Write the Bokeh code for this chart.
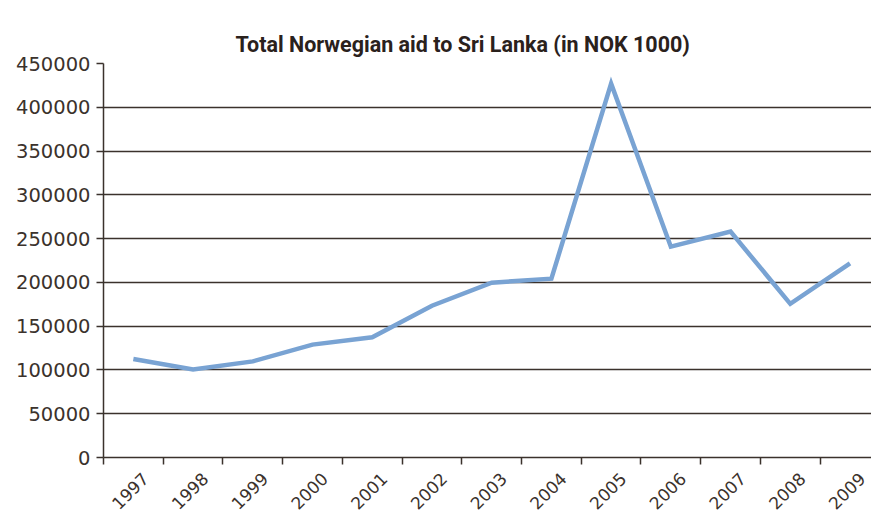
import math
from bokeh.plotting import figure
from bokeh.models import Range1d, FixedTicker, NumeralTickFormatter, Title, LinearAxis
from bokeh.embed import file_html
from bokeh.resources import INLINE

title_text = "Total Norwegian aid to Sri Lanka (in NOK 1000)"
years = [1997, 1998, 1999, 2000, 2001, 2002, 2003, 2004, 2005, 2006, 2007, 2008, 2009]
aid = [112600, 100500, 109800, 128900, 137300, 173400, 199700, 204300, 427000, 240800, 258000, 175500, 221800]
y_ticks = [0, 50000, 100000, 150000, 200000, 250000, 300000, 350000, 400000, 450000]

TXT = "#3b322c"
GRID = "#3b322c"

p = figure(width=871, height=520, output_backend="svg", toolbar_location=None,
           x_range=Range1d(1996.5, 2009.36), y_range=Range1d(0, 450000),
           min_border_left=103, min_border_right=0, min_border_bottom=63, min_border_top=63)

p.title = Title(text=title_text, align="left", offset=132,
                text_font="Roboto", text_font_size="21.5px", text_font_style="bold",
                text_color="#2a211c", standoff=10, text_line_height=1.0, vertical_align="top")

p.line(years, aid, line_color="#79a3d3", line_width=4.5, line_join="miter")

p.outline_line_color = None
p.xgrid.grid_line_color = None
p.ygrid.grid_line_color = GRID
p.ygrid.grid_line_width = 1.5

# y axis
p.yaxis.ticker = FixedTicker(ticks=y_ticks)
p.yaxis.formatter = NumeralTickFormatter(format="0")
p.yaxis.major_label_text_font = "DejaVu Sans"
p.yaxis.major_label_text_font_size = "19.5px"
p.yaxis.major_label_text_color = TXT
p.yaxis.axis_line_color = GRID
p.yaxis.axis_line_width = 1.5
p.yaxis.major_tick_line_color = GRID
p.yaxis.major_tick_line_width = 1.5
p.yaxis.major_tick_out = 7
p.yaxis.major_tick_in = 0
p.yaxis.minor_tick_line_color = None
p.yaxis.major_label_standoff = 6

# x axis: labels near category centres, tick marks at category boundaries
label_pos = [y + 0.2 for y in years]
bounds = [y - 0.5 for y in years] + [years[-1] + 0.5]
xa = p.xaxis[0]
xa.ticker = FixedTicker(ticks=label_pos, minor_ticks=bounds)
xa.major_label_overrides = {lp: str(y) for lp, y in zip(label_pos, years)}
xa.major_label_orientation = math.pi / 4
xa.major_label_text_font = "DejaVu Sans"
xa.major_label_text_font_size = "17px"
xa.major_label_text_color = TXT
xa.axis_line_color = GRID
xa.axis_line_width = 1.5
xa.major_tick_line_color = None
xa.major_tick_out = 7
xa.major_tick_in = 0
xa.minor_tick_line_color = GRID
xa.minor_tick_line_width = 1.5
xa.minor_tick_out = 7
xa.minor_tick_in = 0
xa.major_label_standoff = 11

# invisible spacer axis between the title and the plot frame (added after styling)
spacer = LinearAxis(ticker=FixedTicker(ticks=[]), axis_line_color=None,
                    major_tick_line_color=None, minor_tick_line_color=None,
                    major_tick_out=26, major_tick_in=0, minor_tick_out=0, minor_tick_in=0,
                    major_label_standoff=0)
p.add_layout(spacer, "above")

open("out.html", "w").write(file_html(p, INLINE))
